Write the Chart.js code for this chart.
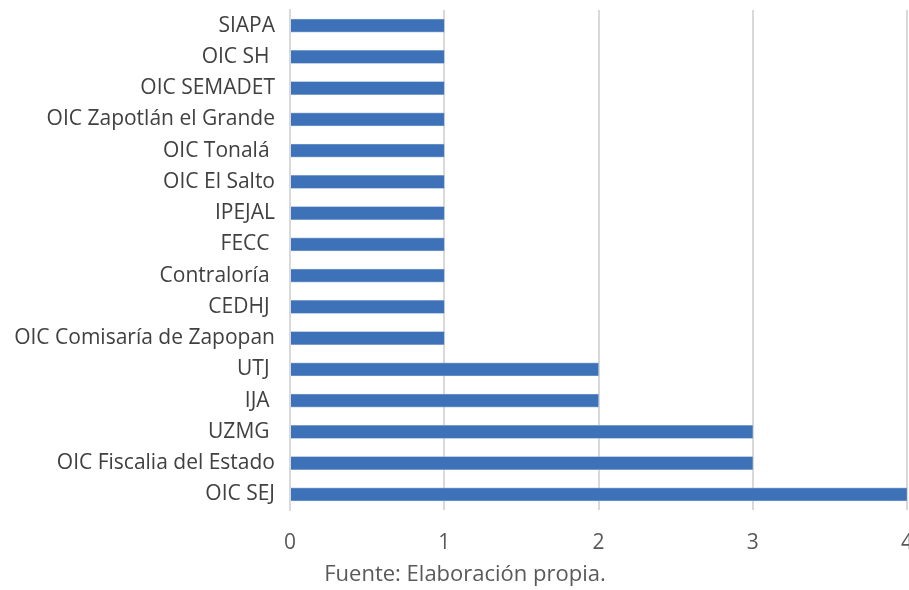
<!DOCTYPE html>
<html lang="es">
<head>
  <meta charset="UTF-8">
  <script src="https://cdn.jsdelivr.net/npm/chart.js"></script>
  <title>Fuente: Elaboración propia</title>
  <style>
    html, body { margin:0; padding:0; background:#fff; overflow:hidden; }
    #wrap { width:909px; height:590px; position:relative; }
  </style>
</head>
<body>
  <div id="wrap">
    <canvas id="myChart"></canvas>
  </div>
  <script>
    // categorias de arriba hacia abajo
    const categorias = ['SIAPA', 'OIC SH ', 'OIC SEMADET', 'OIC Zapotlán el Grande', 'OIC Tonalá ',
      'OIC El Salto', 'IPEJAL', 'FECC ', 'Contraloría ', 'CEDHJ ', 'OIC Comisaría de Zapopan',
      'UTJ ', 'IJA ', 'UZMG ', 'OIC Fiscalia del Estado', 'OIC SEJ'];
    const valores = [1, 1, 1, 1, 1, 1, 1, 1, 1, 1, 1, 2, 2, 3, 3, 4];
    const ticksX = ['0', '1', '2', '3', '4'];
    const fuente = 'Fuente: Elaboración propia.';

    // nota de fuente debajo del eje
    const notaFuente = {
      id: 'notaFuente',
      afterDraw(chart) {
        const c = chart.ctx;
        c.save();
        c.font = '22px "Open Sans"';
        c.fillStyle = '#595959';
        c.textAlign = 'center';
        c.textBaseline = 'middle';
        c.fillText(fuente, 465, 575);
        c.restore();
      }
    };

    const sinPadding = (s) => { s.paddingTop = 0; s.paddingBottom = 0; s.paddingLeft = 0; s.paddingRight = 0; };

    const ctx = document.getElementById('myChart');
    new Chart(ctx, {
      type: 'bar',
      data: {
        labels: categorias,
        datasets: [{
          data: valores,
          backgroundColor: '#3D72B9',
          borderColor: '#8FAAD6',
          borderWidth: 0.6,
          barThickness: 13
        }]
      },
      options: {
        indexAxis: 'y',
        responsive: true,
        maintainAspectRatio: false,
        animation: false,
        layout: { padding: { top: 10, left: 0, right: 2, bottom: 24 } },
        plugins: {
          legend: { display: false },
          tooltip: { enabled: false },
          title: { display: false }
        },
        scales: {
          x: {
            min: 0,
            max: 4,
            afterBuildTicks: (s) => { s.ticks = ticksX.map(Number).map(v => ({ value: v })); },
            grid: { color: '#D9D9D9', lineWidth: 2, drawTicks: false },
            border: { display: false },
            ticks: {
              color: '#595959',
              font: { family: 'Open Sans', size: 21 },
              padding: 20,
              callback: (v) => ticksX[v]
            },
            afterFit: (s) => { sinPadding(s); s.height = 56; }
          },
          y: {
            grid: { display: false, drawTicks: false },
            border: { color: '#D9D9D9', width: 2 },
            ticks: {
              color: '#404040',
              font: { family: 'Open Sans', size: 21 },
              padding: 15,
              autoSkip: false
            },
            afterFit: (s) => { sinPadding(s); s.width = 290; }
          }
        }
      },
      plugins: [notaFuente]
    });
  </script>
</body>
</html>
